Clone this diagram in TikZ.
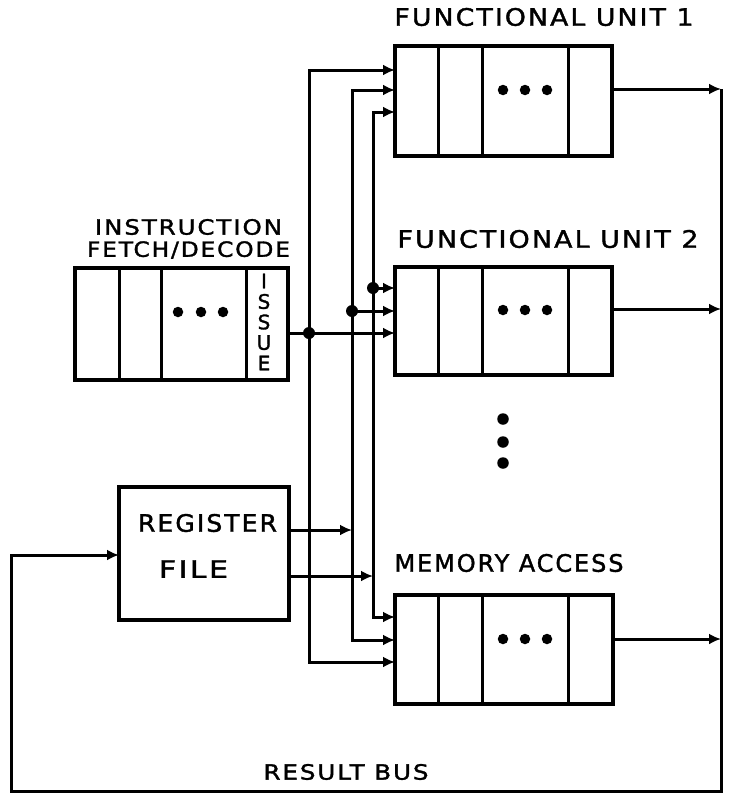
\documentclass[tikz,border=0pt]{standalone}
\usepackage{fontspec}
\usepackage{graphicx}
\setmainfont{DejaVu Sans}
\newfontfamily\plotfont[LetterSpace=8,FakeBold=1.5]{DejaVu Sans}
\newcommand\fitw[2]{\resizebox{#1}{\height}{#2}}
\usetikzlibrary{arrows.meta,calc}
\begin{document}
\begin{tikzpicture}[x=1pt,y=-1pt,line width=3pt,
  box/.style={draw,rectangle,inner sep=0pt,outer sep=0pt,line width=3.3pt},
  lbl/.style={font=\plotfont\fontsize{24}{26}\selectfont,inner sep=0pt},
  lbls/.style={font=\plotfont\fontsize{21}{23}\selectfont,inner sep=0pt},
  arr/.style={-{Latex[length=12pt,width=11pt]}},
  arrb/.style={{Latex[length=12pt,width=11pt]}-{Latex[length=12pt,width=11pt]}},
  jdot/.style={circle,fill,inner sep=0pt,minimum size=12pt},
  pdot/.style={circle,fill,inner sep=0pt,minimum size=10.5pt}]
\useasboundingbox (0,0) rectangle (746,803);

% boxes
\node[box,minimum width=217pt,minimum height=110pt] (fu1) at (503.5,101) {};
\node[box,minimum width=217pt,minimum height=108pt] (fu2) at (503.5,321) {};
\node[box,minimum width=218pt,minimum height=109pt] (mem) at (504,649.5) {};
\node[box,minimum width=213pt,minimum height=112pt] (ifd) at (181.5,324) {};
\node[box,minimum width=170pt,minimum height=133pt] (rf) at (204,553.5) {};

% dividers
\foreach \b in {fu1,fu2,mem}{
  \foreach \d in {43,87,173}{
    \draw[line width=3pt] ($(\b.north west)+(\d,0)$) -- ($(\b.south west)+(\d,0)$);
  }
}
\foreach \d in {44,86,171}{
  \draw[line width=3pt] ($(ifd.north west)+(\d,0)$) -- ($(ifd.south west)+(\d,0)$);
}

% pipeline dots
\foreach \y in {90,310,639}{
  \foreach \x in {503,525,547}{ \node[pdot] at (\x,\y) {}; }
}
\foreach \x in {178,201,223}{ \node[pdot] at (\x,312) {}; }
\foreach \y in {419,442,463}{ \node[pdot,minimum size=11.5pt] at (503,\y) {}; }

% labels
\node[lbl,anchor=west] (t1) at (393,17) {\fitw{299pt}{FUNCTIONAL UNIT 1}};
\node[lbl,anchor=west] (t2) at (396,239) {\fitw{301pt}{FUNCTIONAL UNIT 2}};
\node[lbl,anchor=west] (t3) at (393,563) {\fitw{229pt}{MEMORY ACCESS}};
\node[lbls] (ti1) at (188.5,227) {\fitw{187pt}{INSTRUCTION}};
\node[lbls] (ti2) at (188.5,250) {\fitw{203pt}{FETCH/DECODE}};
\node[lbl] (rl1) at (207.5,523) {\fitw{139pt}{REGISTER}};
\node[lbl] (rl2) at (193.5,569) {\fitw{69pt}{FILE}};
\node[lbls,anchor=west] (rbus) at (262,772) {\fitw{165pt}{RESULT BUS}};
\node[font=\plotfont\fontsize{20}{20.5}\selectfont,align=center,inner sep=0pt] (iss) at (264,322) {I\\S\\S\\U\\E};

% bus coordinates
\coordinate (a1) at (309,70);  \coordinate (a2) at (309,662); \coordinate (ja) at (309,333);
\coordinate (b1) at (352,90);  \coordinate (b2) at (352,640); \coordinate (jb) at (352,311);
\coordinate (c1) at (373,112); \coordinate (c2) at (373,617); \coordinate (jc) at (373,288);
\coordinate (rb) at (352,530); \coordinate (rc) at (373,576);

\draw[arrb] (a1 -| fu1.west) -- (a1) -- (a2) -- (a2 -| mem.west);
\draw[arrb] (b1 -| fu1.west) -- (b1) -- (b2) -- (b2 -| mem.west);
\draw[arrb] (c1 -| fu1.west) -- (c1) -- (c2) -- (c2 -| mem.west);

\draw[arr] (ifd.east |- ja) -- (ja -| fu2.west);
\draw[arr] (jb) -- (jb -| fu2.west);
\draw[arr] (jc) -- (jc -| fu2.west);
\node[jdot] at (ja) {};
\node[jdot] at (jb) {};
\node[jdot] at (jc) {};

\draw[arr] (rf.east |- rb) -- (rb);
\draw[arr] (rf.east |- rc) -- (rc);

% result bus
\coordinate (r1) at (721,89); \coordinate (r2) at (721,309); \coordinate (r3) at (721,639);
\coordinate (rbot) at (721,791); \coordinate (lbot) at (11,791); \coordinate (ltop) at (11,555);
\draw[arr] (fu1.east |- r1) -- (r1);
\draw[arr] (fu2.east |- r2) -- (r2);
\draw[arr] (mem.east |- r3) -- (r3);
\draw[arr] (r1) -- (rbot) -- (lbot) -- (ltop) -- (ltop -| rf.west);
\end{tikzpicture}
\end{document}
